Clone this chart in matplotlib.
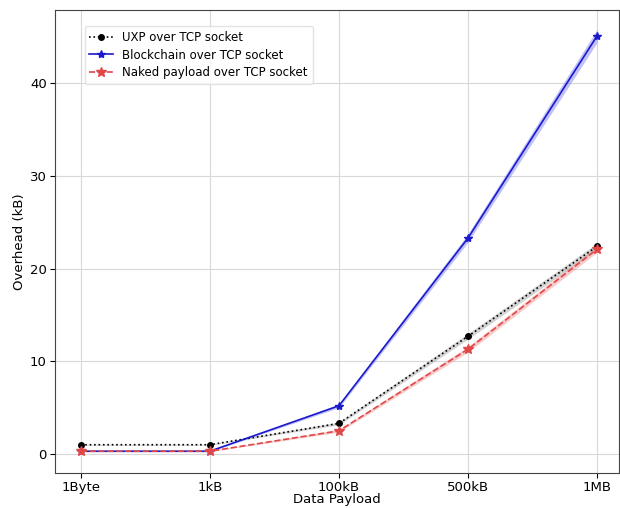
import matplotlib
matplotlib.use("Agg")
import matplotlib.pyplot as plt
import numpy as np

# data payload categories
payloads = ["1Byte", "1kB", "100kB", "500kB", "1MB"]

# overhead in kB
uxp = [1.0, 1.0, 3.3, 12.7, 22.4]
blockchain = [0.3, 0.3, 5.2, 23.3, 45.1]
naked = [0.3, 0.3, 2.5, 11.3, 22.1]

# spread of the shaded band around each line
uxp_err = [0.05, 0.05, 0.15, 0.3, 0.35]
blockchain_err = [0.05, 0.05, 0.2, 0.45, 0.7]
naked_err = [0.05, 0.05, 0.15, 0.3, 0.35]

x = np.arange(len(payloads))

fig = plt.figure(figsize=(6.2, 5.08), dpi=100)
ax = fig.add_axes([55 / 620, 35 / 508, 564 / 620, 463 / 508])

ax.plot(x, uxp, color="black", linestyle=":", marker="o", markersize=4,
        linewidth=1.2, label="UXP over TCP socket")
ax.fill_between(x, np.array(uxp) - uxp_err, np.array(uxp) + uxp_err,
                color="gray", alpha=0.35, linewidth=0)

ax.plot(x, blockchain, color="#1a1acc", linestyle="-", marker="*", markersize=6,
        linewidth=1.2, label="Blockchain over TCP socket")
ax.fill_between(x, np.array(blockchain) - blockchain_err, np.array(blockchain) + blockchain_err,
                color="#6666ee", alpha=0.4, linewidth=0)

ax.plot(x, naked, color="#e04848", linestyle="--", marker="*", markersize=7,
        linewidth=1.2, label="Naked payload over TCP socket")
ax.fill_between(x, np.array(naked) - naked_err, np.array(naked) + naked_err,
                color="#f08080", alpha=0.4, linewidth=0)

ax.set_xticks(x)
ax.set_xticklabels(payloads)
ax.set_xlim(-0.2, 4.17)
ax.set_ylim(-2.05, 47.9)
ax.set_yticks([0, 10, 20, 30, 40])
ax.tick_params(labelsize=9.5, pad=2.5)
ax.grid(True, color="#d8d8d8", linewidth=0.8)
ax.set_axisbelow(True)
for s in ax.spines.values():
    s.set_color("#444444")

ax.set_xlabel("Data Payload", fontsize=9.5, labelpad=-1)
ax.set_ylabel("Overhead (kB)", fontsize=9.5, labelpad=3)

ax.legend(loc="upper left", bbox_to_anchor=(0.042, 0.978), fontsize=8.5,
          framealpha=0.8, edgecolor="#dddddd", handlelength=2.0,
          labelspacing=0.4)

fig.savefig("out.png", dpi=100)
